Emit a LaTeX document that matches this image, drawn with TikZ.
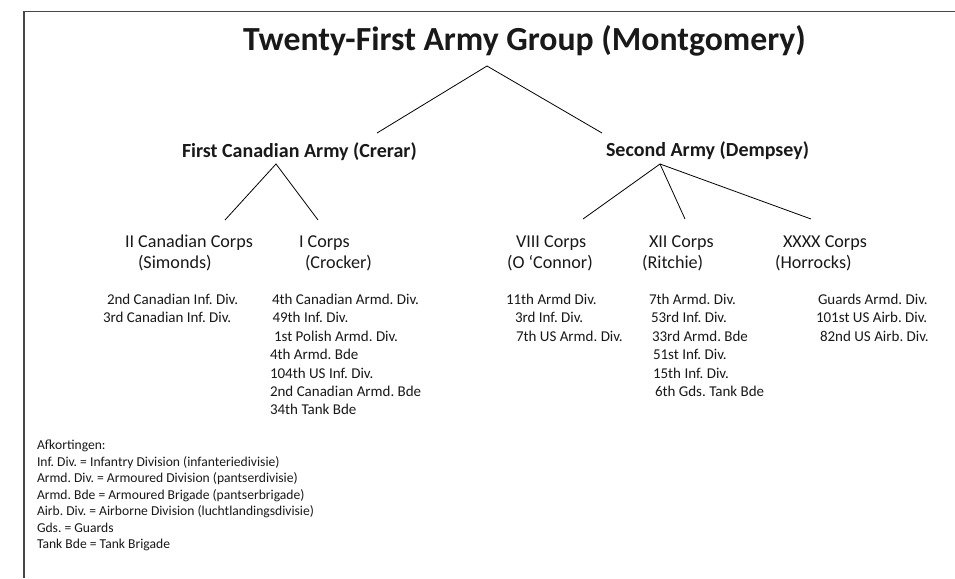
\documentclass[tikz,border=0pt]{standalone}
\usepackage{fontspec}
\setmainfont{Carlito}
\begin{document}
\frenchspacing
\begin{tikzpicture}[x=0.75pt,y=-0.75pt,
  txt/.style={anchor=base west,inner sep=0pt,outer sep=0pt,text=black!90},
  ttl/.style={txt,font=\fontsize{25.3}{30}\selectfont\bfseries},
  army/.style={txt,font=\fontsize{15}{18}\selectfont\bfseries},
  corps/.style={txt,font=\fontsize{13.6}{16}\selectfont},
  div/.style={txt,font=\fontsize{11.25}{13}\selectfont},
  leg/.style={txt,font=\fontsize{10.2}{12}\selectfont},
  conn/.style={draw=black,line width=0.6pt},
  frame/.style={draw=black!72,line width=1.1pt}]
\useasboundingbox (0,0) rectangle (955,578);
\fill[white] (0,0) rectangle (955,578);
% frame
\coordinate (fbl) at (24,578);
\coordinate (ftl) at (24,11.5);
\coordinate (ftr) at (955,11.5);
\draw[frame] (fbl) -- (ftl) -- (ftr);

% titles
\node[ttl] (title) at (243,50.5) {Twenty-First Army Group (Montgomery)};
\node[army] (fca) at (182,157) {First Canadian Army (Crerar)};
\node[army] (sa) at (606,156) {Second Army (Dempsey)};

% corps
\node[corps] (c1a) at (125,247) {II Canadian Corps};
\node[corps] (c1b) at (138,268) {(Simonds)};
\node[corps] (c2a) at (299,247) {I Corps};
\node[corps] (c2b) at (305,268) {(Crocker)};
\node[corps] (c3a) at (516,247) {VIII Corps};
\node[corps] (c3b) at (507,268) {(O ‘Connor)};
\node[corps] (c4a) at (649,247) {XII Corps};
\node[corps] (c4b) at (642,268) {(Ritchie)};
\node[corps] (c5a) at (783,247) {XXXX Corps};
\node[corps] (c5b) at (775,268) {(Horrocks)};

% connectors
\coordinate (tapex) at (487,66);
\coordinate (fcatop) at (377,133);
\coordinate (satop) at (602,133);
\coordinate (fcaapex) at (276,164);
\coordinate (k1) at (225,220);
\coordinate (k2) at (318,220);
\coordinate (saapex) at (660,164);
\coordinate (k3) at (583,219);
\coordinate (k4) at (685,219);
\coordinate (k5) at (811,219);
\draw[conn] (fcatop) -- (tapex) -- (satop);
\draw[conn] (k1) -- (fcaapex) -- (k2);
\draw[conn] (k3) -- (saapex) -- (k4);
\draw[conn] (saapex) -- (k5);

% divisions: II Canadian Corps
\node[div] (d11) at (107,304.5) {2nd Canadian Inf. Div.};
\node[div] (d12) at (103,322.9) {3rd Canadian Inf. Div.};
% I Corps
\node[div] (d21) at (272,304.5) {4th Canadian Armd. Div.};
\node[div] (d22) at (272.5,322.9) {49th Inf. Div.};
\node[div] (d23) at (274,341.3) {1st Polish Armd. Div.};
\node[div] (d24) at (270,359.7) {4th Armd. Bde};
\node[div] (d25) at (270,378.1) {104th US Inf. Div.};
\node[div] (d26) at (270,396.5) {2nd Canadian Armd. Bde};
\node[div] (d27) at (270,414.9) {34th Tank Bde};
% VIII Corps
\node[div] (d31) at (506,304.5) {11th Armd Div.};
\node[div] (d32) at (515,322.9) {3rd Inf. Div.};
\node[div] (d33) at (516,341.3) {7th US Armd. Div.};
% XII Corps
\node[div] (d41) at (649,304.5) {7th Armd. Div.};
\node[div] (d42) at (651,322.9) {53rd Inf. Div.};
\node[div] (d43) at (652,341.3) {33rd Armd. Bde};
\node[div] (d44) at (653,359.7) {51st Inf. Div.};
\node[div] (d45) at (653,378.1) {15th Inf. Div.};
\node[div] (d46) at (655,396.5) {6th Gds. Tank Bde};
% XXXX Corps
\node[div] (d51) at (818,304.5) {Guards Armd. Div.};
\node[div] (d52) at (816,322.9) {101st US Airb. Div.};
\node[div] (d53) at (820,341.3) {82nd US Airb. Div.};

% legend
\node[leg] (l0) at (37,449.5) {Afkortingen:};
\node[leg] (l1) at (37,466) {Inf. Div. = Infantry Division (infanteriedivisie)};
\node[leg] (l2) at (37,482.5) {Armd. Div. = Armoured Division (pantserdivisie)};
\node[leg] (l3) at (37,499) {Armd. Bde = Armoured Brigade (pantserbrigade)};
\node[leg] (l4) at (37,515.5) {Airb. Div. = Airborne Division (luchtlandingsdivisie)};
\node[leg] (l5) at (37,532) {Gds. = Guards};
\node[leg] (l6) at (37,548.5) {Tank Bde = Tank Brigade};
\end{tikzpicture}
\end{document}
